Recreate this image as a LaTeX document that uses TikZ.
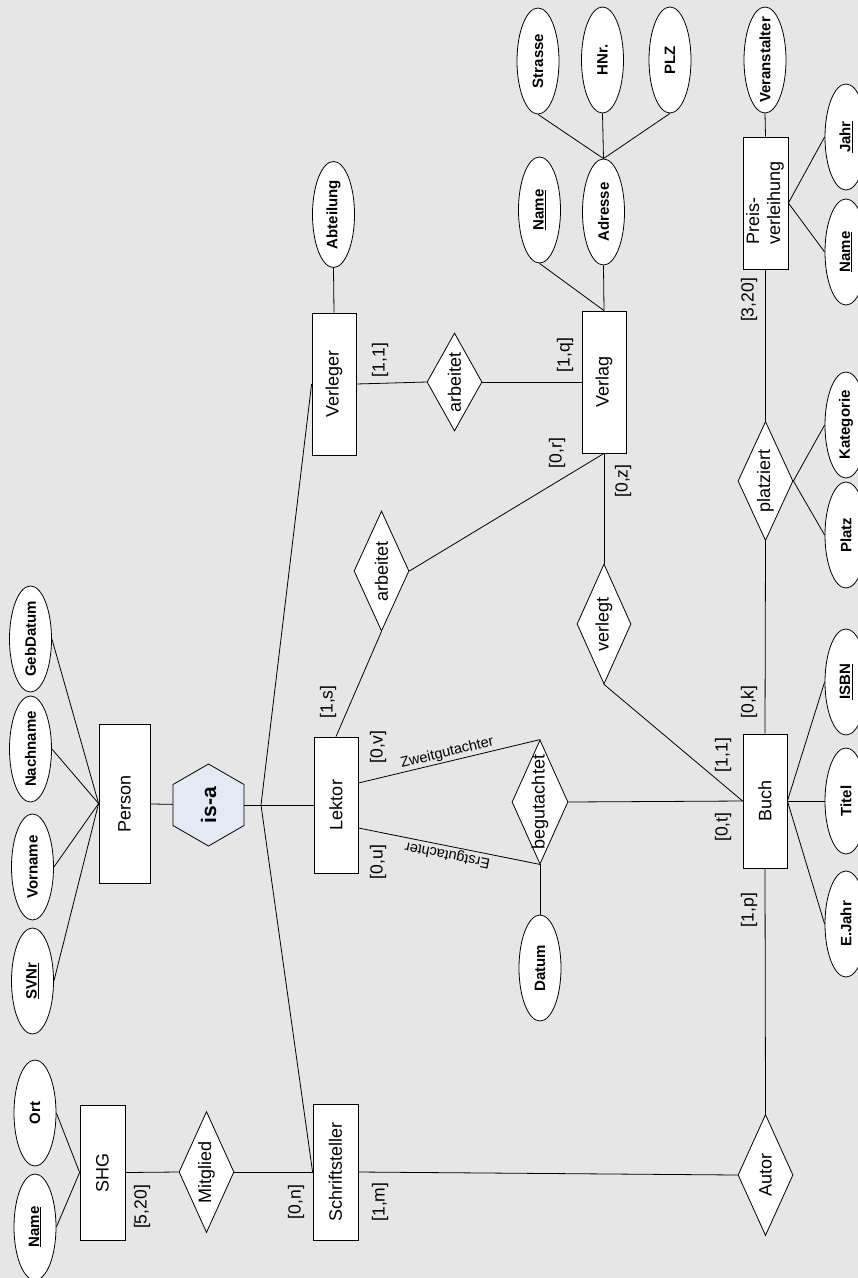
\documentclass[tikz,border=0pt]{standalone}
\usepackage{fontspec}
\setmainfont{Liberation Sans}
\usetikzlibrary{shapes.geometric,calc}
\definecolor{bg}{RGB}{230,230,230}
\definecolor{isafill}{RGB}{227,234,246}
\newcommand{\rt}[1]{\rotatebox{90}{\makebox[0pt]{#1}}}
\begin{document}
\begin{tikzpicture}[x=1pt,y=-1pt,line width=0.8pt,
  ent/.style={draw,fill=white,rectangle,inner sep=0pt,font=\fontsize{18}{21}\selectfont},
  attr/.style={draw,fill=white,ellipse,inner sep=0pt,minimum width=42pt,minimum height=106pt,font=\bfseries\fontsize{15}{18}\selectfont},
  rel/.style={draw,fill=white,diamond,inner sep=0pt,minimum width=55pt,minimum height=120pt,font=\fontsize{18}{21}\selectfont},
  isabox/.style={draw,fill=isafill,regular polygon,regular polygon sides=6,shape border rotate=90,minimum size=82pt,inner sep=0pt,font=\bfseries\fontsize{21}{24}\selectfont},
  card/.style={rotate=90,inner sep=0pt,font=\fontsize{17.5}{20}\selectfont},
  elab/.style={inner sep=1.5pt,font=\fontsize{14.5}{17}\selectfont}]
\useasboundingbox (0,0) rectangle (858,1278);
\fill[bg] (0,0) rectangle (858,1278);
\clip (0,0) rectangle (858,1278);

% entities
\node[ent,minimum width=44pt,minimum height=142pt] (verleger) at (334,384) {\rt{Verleger}};
\node[ent,minimum width=44pt,minimum height=142pt] (verlag) at (604,382) {\rt{Verlag}};
\node[ent,minimum width=45pt,minimum height=132pt] (preis) at (765.5,203) {\rotatebox{90}{\makebox[0pt]{\begin{tabular}{@{}l@{}}Preis-\\verleihung\end{tabular}}}};
\node[ent,minimum width=51pt,minimum height=159pt] (person) at (124.5,803.5) {\rt{Person}};
\node[ent,minimum width=44pt,minimum height=136pt] (lektor) at (336,805) {\rt{Lektor}};
\node[ent,minimum width=44pt,minimum height=134pt] (buch) at (765,801) {\rt{Buch}};
\node[ent,minimum width=45pt,minimum height=135pt] (shg) at (102.5,1172.5) {\rt{SHG}};
\node[ent,minimum width=45pt,minimum height=136pt] (schrift) at (335.5,1172) {\rt{Schriftsteller}};

% is-a
\node[isabox] (isa) at (208.5,805) {\rt{is-a}};
\coordinate (J) at (261,805);

% relationships
\node[rel,minimum height=98pt] (arbA) at (454.5,382) {\rt{arbeitet}};
\node[rel] (arbB) at (381.5,571) {\rt{arbeitet}};
\node[rel,minimum width=54pt] (verlegt) at (604,624) {\rt{verlegt}};
\node[rel,minimum height=119pt] (platziert) at (765.5,481) {\rt{platziert}};
\node[rel,minimum width=56pt,minimum height=124pt] (beg) at (540,802) {\rt{begutachtet}};
\node[rel,minimum height=121pt] (mitglied) at (206.5,1172) {\rt{Mitglied}};
\node[rel,minimum height=121pt] (autor) at (765.5,1175) {\rt{Autor}};

% attributes
\node[attr] (abteilung) at (333.5,214.5) {\rt{Abteilung}};
\node[attr] (strasse) at (538,61) {\rt{Strasse}};
\node[attr] (hnr) at (602.5,60) {\rt{HNr.}};
\node[attr] (plz) at (670,60) {\rt{PLZ}};
\node[attr] (veranst) at (765,60) {\rt{Veranstalter}};
\node[attr] (nameV) at (539.5,210) {\rt{\underline{Name}}};
\node[attr] (adresse) at (603.5,212) {\rt{Adresse}};
\node[attr] (jahr) at (846,137) {\rt{\underline{Jahr}}};
\node[attr] (nameP) at (846,252) {\rt{\underline{Name}}};
\node[attr] (kategorie) at (846,425) {\rt{Kategorie}};
\node[attr] (platz) at (846,535) {\rt{Platz}};
\node[attr] (isbn) at (846,682) {\rt{\underline{ISBN}}};
\node[attr] (titel) at (846,801) {\rt{Titel}};
\node[attr] (ejahr) at (846,924) {\rt{E.Jahr}};
\node[attr] (datum) at (540,968) {\rt{Datum}};
\node[attr] (gebdatum) at (30.5,639) {\rt{GebDatum}};
\node[attr] (nachname) at (30.5,749) {\rt{Nachname}};
\node[attr] (vorname) at (32.5,867) {\rt{Vorname}};
\node[attr] (svnr) at (32.5,981) {\rt{\underline{SVNr}}};
\node[attr] (ort) at (35,1113) {\rt{Ort}};
\node[attr] (nameS) at (35,1227) {\rt{\underline{Name}}};

% connectors
\draw (abteilung.south) -- (verleger.north);
\draw (verleger.east) -- (arbA.west);
\draw (arbA.east) -- (verlag.west);
\draw (nameV.south) -- (verlag.north);
\draw (adresse.south) -- (verlag.north);
\draw (strasse.south) -- (adresse.north);
\draw (hnr.south) -- (adresse.north);
\draw (plz.south) -- (adresse.north);
\draw (veranst.south) -- (preis.north);
\draw (preis.east) -- (jahr.west);
\draw (preis.east) -- (nameP.west);
\draw (preis.south) -- (platziert.north);
\draw (platziert.south) -- (buch.north);
\draw (platziert.east) -- (kategorie.west);
\draw (platziert.east) -- (platz.west);
\draw (buch.east) -- (isbn.west);
\draw (buch.east) -- (titel.west);
\draw (buch.east) -- (ejahr.west);
\draw (beg.east) -- (buch.west);
\draw (verlegt.south) -- (buch.west);
\draw (verlegt.north) -- (verlag.south);
\draw (verlag.south) -- (arbB.east);
\draw (arbB.south) -- (lektor.north);
\draw ($(lektor.east)+(0,-22)$) -- node[elab,sloped,above] {Zweitgutachter} (beg.north);
\draw (beg.south) -- node[elab,sloped,allow upside down,above] {Erstgutachter} ($(lektor.east)+(0,23)$);
\draw (beg.south) -- (datum.north);
\draw (person) -- (isa);
\draw (isa) -- (lektor);
\draw (J) -- (verleger.west);
\draw (J) -- (schrift.west);
\draw (person.west) -- (gebdatum.east);
\draw (person.west) -- (nachname.east);
\draw (person.west) -- (vorname.east);
\draw (person.west) -- (svnr.east);
\draw (shg.west) -- (ort.east);
\draw (shg.west) -- (nameS.east);
\draw (shg.east) -- (mitglied.west);
\draw (mitglied.east) -- (schrift.west);
\draw (schrift.east) -- (autor.west);
\draw (autor.north) -- (buch.south);

% cardinalities
\node[card] (k1) at (380,360) {[1,1]};
\node[card] (k2) at (565,355) {[1,q]};
\node[card] (k3) at (749,300) {[3,20]};
\node[card] (k4) at (557,453) {[0,r]};
\node[card] (k5) at (623,481) {[0,z]};
\node[card] (k6) at (328,702) {[1,s]};
\node[card] (k7) at (378,747) {[0,v]};
\node[card] (k8) at (378,862) {[0,u]};
\node[card] (k9) at (749,702) {[0,k]};
\node[card] (k10) at (723,755) {[1,1]};
\node[card] (k11) at (723,827) {[0,t]};
\node[card] (k12) at (749,910) {[1,p]};
\node[card] (k13) at (142,1207) {[5,20]};
\node[card] (k14) at (296,1202) {[0,n]};
\node[card] (k15) at (380,1202) {[1,m]};
\end{tikzpicture}
\end{document}
